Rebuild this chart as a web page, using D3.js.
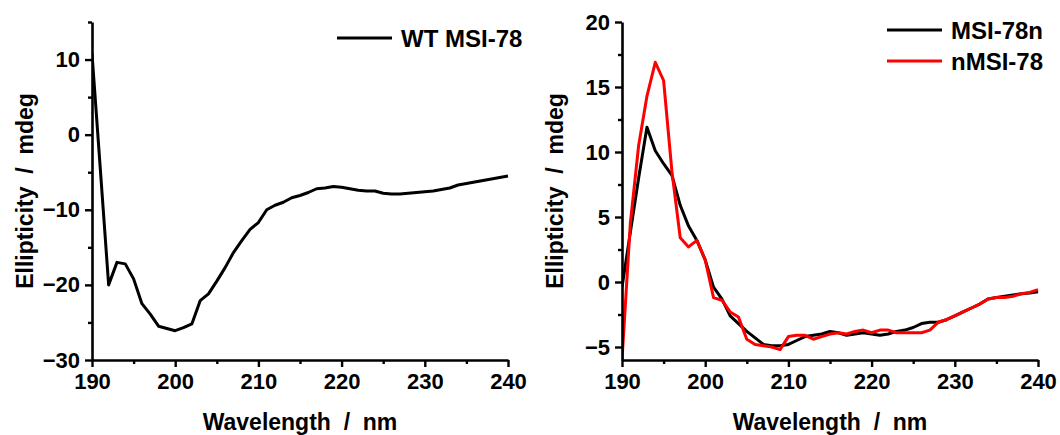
<!DOCTYPE html>
<html>
<head>
<meta charset="utf-8">
<script src="https://cdn.jsdelivr.net/npm/d3@7/dist/d3.min.js"></script>
<style>
html,body{margin:0;padding:0;background:#fff;}
svg{display:block;}
text{font-family:"Liberation Sans",Arial,sans-serif;font-weight:bold;fill:#000;white-space:pre;}
</style>
</head>
<body>
<svg id="chart" width="1060" height="435"></svg>
<script>
// Wavelength grid (nm)
const wavelengths = d3.range(190, 241, 1);

// Left panel: WT MSI-78 (mdeg)
const wtMSI78 = [10.8, -4.6, -20.0, -17.0, -17.2, -19.2, -22.5, -23.9, -25.5, -25.8,
  -26.1, -25.7, -25.2, -22.1, -21.2, -19.5, -17.7, -15.7, -14.1, -12.6,
  -11.7, -10.0, -9.4, -9.0, -8.4, -8.1, -7.7, -7.2, -7.1, -6.9,
  -7.0, -7.2, -7.4, -7.5, -7.5, -7.8, -7.9, -7.9, -7.8, -7.7,
  -7.6, -7.5, -7.3, -7.1, -6.7, -6.5, -6.3, -6.1, -5.9, -5.7, -5.5];

// Right panel: MSI-78n (black) and nMSI-78 (red)
const msi78n = [-0.4, 3.8, 8.0, 11.9, 10.1, 9.1, 8.2, 5.9, 4.3, 3.2,
  1.7, -0.4, -1.3, -2.6, -3.2, -3.8, -4.3, -4.8, -4.9, -4.9,
  -4.8, -4.5, -4.2, -4.1, -4.0, -3.8, -3.9, -4.1, -4.0, -3.9,
  -4.0, -4.1, -4.0, -3.8, -3.7, -3.5, -3.2, -3.1, -3.1, -2.9,
  -2.6, -2.3, -2.0, -1.7, -1.3, -1.2, -1.1, -1.0, -0.9, -0.85, -0.75];
const nMSI78 = [-6.0, 4.5, 10.5, 14.3, 16.9, 15.5, 8.5, 3.4, 2.7, 3.2,
  1.7, -1.2, -1.4, -2.3, -2.7, -4.4, -4.8, -4.9, -5.0, -5.2,
  -4.2, -4.1, -4.1, -4.4, -4.2, -4.0, -3.9, -4.0, -3.8, -3.7,
  -3.9, -3.7, -3.7, -3.9, -3.9, -3.9, -3.9, -3.7, -3.1, -2.9,
  -2.6, -2.3, -2.0, -1.7, -1.3, -1.2, -1.2, -1.1, -0.9, -0.8, -0.6];

// Tick values
const xMajorTicks = [190, 200, 210, 220, 230, 240];
const xMinorTicks = [195, 205, 215, 225, 235];
const leftYMajor = [-30, -20, -10, 0, 10];
const leftYMinor = [-25, -15, -5, 5, 15];
const rightYMajor = [-5, 0, 5, 10, 15, 20];
const rightYMinor = [-2.5, 2.5, 7.5, 12.5, 17.5];

const xTitle = "Wavelength  /  nm";
const yTitle = "Ellipticity  /  mdeg";

const svg = d3.select("#chart");

function panel(cfg) {
  const g = svg.append("g");
  const x = d3.scaleLinear().domain([190, 240]).range([cfg.x0, cfg.x1]);
  const y = d3.scaleLinear().domain(cfg.yDomain).range([cfg.yBottom, cfg.yTop]);

  const clipId = "clip" + cfg.id;
  svg.append("clipPath").attr("id", clipId).append("rect")
    .attr("x", cfg.x0).attr("y", cfg.yTop - 2)
    .attr("width", cfg.x1 - cfg.x0 + 2).attr("height", cfg.yBottom - cfg.yTop + 2);

  const line = d3.line().x((d, i) => x(wavelengths[i])).y(d => y(d));
  cfg.series.forEach(s => {
    g.append("path").datum(s.values)
      .attr("clip-path", `url(#${clipId})`)
      .attr("fill", "none").attr("stroke", s.color)
      .attr("stroke-width", 3).attr("stroke-linejoin", "round")
      .attr("d", line);
  });

  // X axis
  g.append("g").attr("transform", `translate(0,${cfg.yBottom})`)
    .call(d3.axisBottom(x).tickValues(xMajorTicks).tickSize(7).tickSizeOuter(0).tickPadding(6).tickFormat(d3.format("d")));
  g.append("g").attr("transform", `translate(0,${cfg.yBottom})`)
    .call(d3.axisBottom(x).tickValues(xMinorTicks).tickSize(4).tickSizeOuter(0).tickFormat(""))
    .select(".domain").remove();

  // Y axis
  g.append("g").attr("transform", `translate(${cfg.x0},0)`)
    .call(d3.axisLeft(y).tickValues(cfg.yMajor).tickSize(7).tickSizeOuter(0).tickPadding(5).tickFormat(d3.format("d")));
  g.append("g").attr("transform", `translate(${cfg.x0},0)`)
    .call(d3.axisLeft(y).tickValues(cfg.yMinor).tickSize(4).tickSizeOuter(0).tickFormat(""))
    .select(".domain").remove();

  g.selectAll(".domain").attr("stroke", "#000").attr("stroke-width", 2.6);
  g.selectAll(".tick line").attr("stroke", "#000").attr("stroke-width", 2.4);
  g.selectAll(".tick text").attr("font-size", 22)
    .attr("font-family", '"Liberation Sans", Arial, sans-serif').attr("font-weight", "bold");

  // Axis titles
  g.append("text").attr("x", (cfg.x0 + cfg.x1) / 2).attr("y", 430)
    .attr("text-anchor", "middle").attr("font-size", 23).text(xTitle);
  g.append("text")
    .attr("transform", `translate(${cfg.x0 - 59},${(cfg.yTop + cfg.yBottom) / 2}) rotate(-90)`)
    .attr("text-anchor", "middle").attr("font-size", 23).text(yTitle);

  // Legend
  cfg.series.forEach((s, i) => {
    const ly = cfg.legendY + i * 31;
    g.append("line").attr("x1", cfg.legendX).attr("x2", cfg.legendX + 55)
      .attr("y1", ly).attr("y2", ly).attr("stroke", s.color).attr("stroke-width", 3);
    g.append("text").attr("x", cfg.legendX + 64).attr("y", ly + 9)
      .attr("font-size", 24).text(s.name);
  });
}

panel({
  id: "L", x0: 92, x1: 508, yTop: 22, yBottom: 360, yDomain: [-30, 15],
  yMajor: leftYMajor, yMinor: leftYMinor,
  series: [{name: "WT MSI-78", values: wtMSI78, color: "#000000"}],
  legendX: 337, legendY: 38
});
panel({
  id: "R", x0: 622, x1: 1038, yTop: 22, yBottom: 360, yDomain: [-6, 20],
  yMajor: rightYMajor, yMinor: rightYMinor,
  series: [{name: "MSI-78n", values: msi78n, color: "#000000"},
           {name: "nMSI-78", values: nMSI78, color: "#ff0000"}],
  legendX: 887, legendY: 30
});
</script>
</body>
</html>
